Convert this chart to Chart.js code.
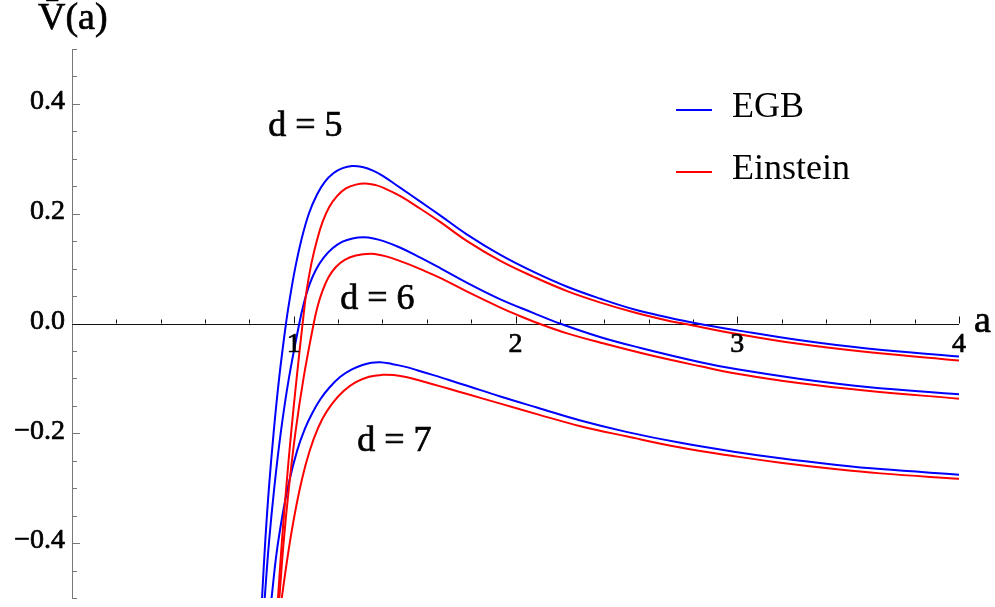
<!DOCTYPE html>
<html>
<head>
<meta charset="utf-8">
<script src="https://cdn.jsdelivr.net/npm/chart.js@4.4.0/dist/chart.umd.min.js"></script>
<style>
html,body{margin:0;padding:0;background:#fff;}
#contenedor{width:995px;height:607px;position:relative;}
</style>
</head>
<body>
<div id="contenedor"><canvas id="graficoPotencial"></canvas></div>
<script>
// valores: a (eje x) y V(a) (eje y) por curva
var aEGB5 = [0.857,0.871,0.888,0.909,0.934,0.965,0.984,1.006,1.033,1.068,1.105,1.14,1.18,1.22,1.263,1.31,1.36,1.405,1.481,1.571,1.66,1.782,1.932,2.082,2.233,2.384,2.533,2.684,2.82,3.0,3.285,3.586,4.0];
var vEGB5 = [-0.5,-0.4,-0.3,-0.2,-0.1,0,0.05,0.1,0.15,0.2,0.235,0.258,0.274,0.283,0.287,0.285,0.278,0.268,0.247,0.222,0.197,0.162,0.125,0.094,0.067,0.045,0.026,0.0115,0,-0.0125,-0.0305,-0.0455,-0.060];

var aEin5 = [0.929,0.946,0.966,0.988,1.013,1.04,1.058,1.08,1.105,1.13,1.16,1.195,1.235,1.28,1.323,1.37,1.405,1.481,1.571,1.66,1.782,1.932,2.082,2.233,2.384,2.533,2.684,2.755,3.0,3.285,3.586,4.0];
var vEin5 = [-0.5,-0.4,-0.3,-0.2,-0.1,0,0.06,0.11,0.152,0.185,0.212,0.232,0.246,0.253,0.255,0.252,0.247,0.232,0.209,0.185,0.150,0.114,0.085,0.059,0.038,0.0205,0.0055,0,-0.019,-0.0375,-0.052,-0.0675];

var aEGB6 = [0.869,0.888,0.912,0.941,0.978,1.025,1.045,1.07,1.10,1.135,1.175,1.22,1.265,1.315,1.36,1.405,1.481,1.571,1.66,1.782,1.932,2.082,2.2,2.384,2.564,2.834,3.0,3.285,3.586,4.0];
var vEGB6 = [-0.5,-0.4,-0.3,-0.2,-0.1,0,0.036,0.070,0.098,0.120,0.137,0.149,0.155,0.157,0.155,0.150,0.138,0.120,0.101,0.074,0.044,0.019,0,-0.025,-0.0445,-0.0705,-0.0835,-0.101,-0.1155,-0.129];

var aEin6 = [0.935,0.954,0.978,1.007,1.044,1.09,1.108,1.13,1.158,1.19,1.23,1.28,1.346,1.40,1.436,1.511,1.571,1.66,1.782,1.932,2.0,2.105,2.233,2.384,2.609,2.834,3.0,3.285,3.586,4.0];
var vEin6 = [-0.5,-0.4,-0.3,-0.2,-0.1,0,0.032,0.060,0.085,0.103,0.116,0.124,0.127,0.124,0.120,0.109,0.099,0.083,0.058,0.029,0.017,0,-0.018,-0.035,-0.058,-0.078,-0.0915,-0.109,-0.1225,-0.137];

var aEGB7 = [0.900,0.922,0.948,0.978,1.015,1.05,1.085,1.12,1.16,1.21,1.26,1.31,1.35,1.39,1.44,1.50,1.56,1.63,1.70,1.782,1.932,2.1,2.293,2.5,2.744,3.0,3.195,3.45,3.646,4.0];
var vEGB7 = [-0.5,-0.42,-0.352,-0.29,-0.232,-0.192,-0.162,-0.138,-0.117,-0.097,-0.084,-0.0755,-0.0715,-0.0705,-0.0735,-0.0785,-0.0855,-0.094,-0.103,-0.1135,-0.133,-0.1535,-0.1767,-0.1974,-0.2174,-0.2345,-0.2456,-0.2576,-0.2652,-0.2753];

var aEin7 = [0.946,0.965,0.99,1.02,1.055,1.09,1.13,1.175,1.225,1.28,1.34,1.40,1.45,1.50,1.56,1.631,1.70,1.782,1.932,2.1,2.293,2.5,2.744,3.0,3.195,3.45,3.646,4.0];
var vEin7 = [-0.5,-0.445,-0.38,-0.315,-0.255,-0.21,-0.173,-0.145,-0.123,-0.107,-0.097,-0.0935,-0.094,-0.097,-0.103,-0.111,-0.119,-0.1285,-0.146,-0.1655,-0.187,-0.2055,-0.226,-0.2425,-0.2535,-0.2655,-0.273,-0.283];

// marcas de los ejes
var ticksX = [1,2,3,4];
var etiquetasX = ["1","2","3","4"];
var ticksY = [-0.4,-0.2,0,0.2,0.4];
var etiquetasY = ["\u22120.4","\u22120.2","0.0","0.2","0.4"];
var leyenda = ["EGB","Einstein"];
var etiquetasD = ["d = 5","d = 6","d = 7"];

var AZUL = "rgb(0,0,255)";
var ROJO = "rgb(255,0,0)";
var FUENTE = "'Liberation Serif',serif";

function Puntos(xs, ys){
  return xs.map(function(x, i){ return {x: x, y: ys[i]}; });
}

function Serie(nombre, xs, ys, color){
  return {
    label: nombre,
    data: Puntos(xs, ys),
    borderColor: color,
    borderWidth: 2,
    pointRadius: 0,
    showLine: true,
    fill: false,
    tension: 0.4
  };
}

// texto un poco mas grueso, como en la figura original
function TextoGrueso(ctx, txt, x, y){
  ctx.fillText(txt, x, y);
  ctx.strokeText(txt, x, y);
}

// ejes tipo Mathematica: se cruzan en (0,0), marcas hacia dentro
var pluginEjes = {
  id: "ejes",
  beforeDatasetsDraw: function(chart){
    var ctx = chart.ctx, sx = chart.scales.x, sy = chart.scales.y;
    var x0 = sx.getPixelForValue(0), y0 = sy.getPixelForValue(0);
    var area = chart.chartArea;
    ctx.save();
    // eje vertical
    ctx.strokeStyle = "#777";
    ctx.lineWidth = 1;
    ctx.beginPath();
    ctx.moveTo(x0 + 0.5, area.top);
    ctx.lineTo(x0 + 0.5, area.bottom);
    ctx.stroke();
    for (var i = -10; i <= 10; i++) {
      var py = Math.round(sy.getPixelForValue(i * 0.05)) + 0.5;
      var largo = (i % 4 === 0) ? 8 : 5;
      ctx.beginPath();
      ctx.moveTo(x0, py);
      ctx.lineTo(x0 + largo, py);
      ctx.stroke();
    }
    // eje horizontal
    ctx.strokeStyle = "#111";
    ctx.beginPath();
    ctx.moveTo(x0, Math.round(y0) + 0.5);
    ctx.lineTo(area.right, Math.round(y0) + 0.5);
    ctx.stroke();
    for (var j = 1; j <= 20; j++) {
      var px = Math.round(sx.getPixelForValue(j * 0.2)) + 0.5;
      var alto = (j % 5 === 0) ? 7 : 4;
      ctx.beginPath();
      ctx.moveTo(px, y0);
      ctx.lineTo(px, y0 - alto);
      ctx.stroke();
    }
    ctx.restore();
  },
  afterDatasetsDraw: function(chart){
    var ctx = chart.ctx, sx = chart.scales.x, sy = chart.scales.y;
    var x0 = sx.getPixelForValue(0), y0 = sy.getPixelForValue(0);
    ctx.save();
    ctx.fillStyle = "#000";
    ctx.strokeStyle = "#000";
    ctx.lineWidth = 0.7;
    ctx.font = "28px " + FUENTE;
    // etiquetas eje y
    ctx.textAlign = "right";
    ctx.textBaseline = "middle";
    ticksY.forEach(function(v, i){
      TextoGrueso(ctx, etiquetasY[i], x0 - 7, sy.getPixelForValue(v) - 2);
    });
    // etiquetas eje x
    ctx.textAlign = "center";
    ctx.textBaseline = "top";
    ticksX.forEach(function(v, i){
      TextoGrueso(ctx, etiquetasX[i], sx.getPixelForValue(v), y0 + 7);
    });
    // nombres de los ejes
    ctx.textAlign = "left";
    ctx.textBaseline = "alphabetic";
    ctx.font = "38px " + FUENTE;
    TextoGrueso(ctx, "V\u0304(a)", 38, 29);
    TextoGrueso(ctx, "a", 974, 332);
    // etiquetas de dimension
    ctx.font = "36px " + FUENTE;
    TextoGrueso(ctx, etiquetasD[0], sx.getPixelForValue(0.885), sy.getPixelForValue(0.341));
    TextoGrueso(ctx, etiquetasD[1], sx.getPixelForValue(1.21), sy.getPixelForValue(0.027));
    TextoGrueso(ctx, etiquetasD[2], sx.getPixelForValue(1.286), sy.getPixelForValue(-0.2315));
    // leyenda
    var colores = [AZUL, ROJO];
    var lineasY = [110, 172];
    leyenda.forEach(function(txt, i){
      ctx.strokeStyle = colores[i];
      ctx.lineWidth = 2;
      ctx.beginPath();
      ctx.moveTo(676, lineasY[i]);
      ctx.lineTo(712, lineasY[i]);
      ctx.stroke();
      ctx.fillStyle = "#000";
      ctx.fillText(txt, 732, lineasY[i] + 7);
    });
    ctx.restore();
  }
};

function GraficoPotencial(){
  var canvas = document.getElementById("graficoPotencial");
  var ctx = canvas.getContext("2d");
  var config = {
    type: "scatter",
    data: {
      datasets: [
        Serie("EGB d=5", aEGB5, vEGB5, AZUL),
        Serie("Einstein d=5", aEin5, vEin5, ROJO),
        Serie("EGB d=6", aEGB6, vEGB6, AZUL),
        Serie("Einstein d=6", aEin6, vEin6, ROJO),
        Serie("EGB d=7", aEGB7, vEGB7, AZUL),
        Serie("Einstein d=7", aEin7, vEin7, ROJO)
      ]
    },
    options: {
      responsive: true,
      maintainAspectRatio: false,
      animation: false,
      devicePixelRatio: 1,
      layout: { padding: { left: 72, right: 36, top: 49, bottom: 9 } },
      scales: {
        x: { type: "linear", min: 0, max: 4, display: false },
        y: { type: "linear", min: -0.5, max: 0.5, display: false }
      },
      plugins: {
        legend: { display: false },
        tooltip: { enabled: false }
      }
    },
    plugins: [pluginEjes]
  };
  var grafico = new Chart(ctx, config);
}

GraficoPotencial();
</script>
</body>
</html>
